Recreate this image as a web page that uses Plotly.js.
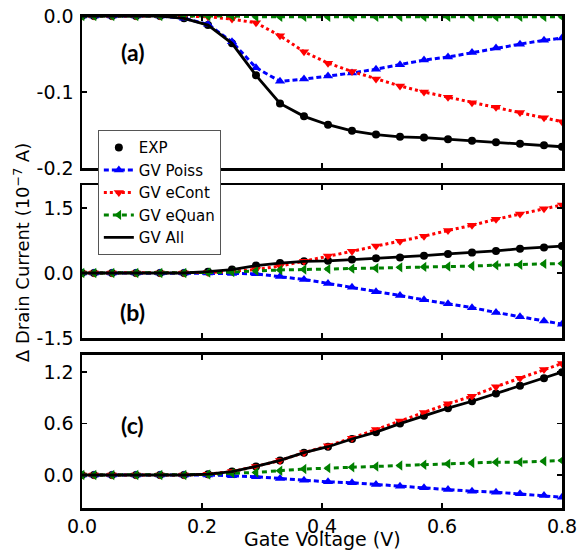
<!DOCTYPE html>
<html>
<head>
<meta charset="utf-8">
<script src="https://cdn.plot.ly/plotly-3.0.1.min.js"></script>
<style>html,body{margin:0;padding:0;background:#fff;}#chart{width:579px;height:554px;}</style>
</head>
<body>
<div id="chart"></div>
<script>
// Gate voltage (V)
const gateVoltage = [0, 0.02, 0.05, 0.09, 0.13, 0.17, 0.21, 0.25, 0.29, 0.33, 0.37, 0.41, 0.45, 0.49, 0.53, 0.57, 0.61, 0.65, 0.69, 0.73, 0.77, 0.80];

// Panel (a)
const expA    = [0,0,0,0,0,-0.003,-0.012,-0.036,-0.078,-0.115,-0.132,-0.143,-0.151,-0.156,-0.159,-0.160,-0.162,-0.164,-0.166,-0.168,-0.170,-0.172];
const poissA  = [0,0,0,0,0,-0.003,-0.011,-0.034,-0.068,-0.086,-0.083,-0.079,-0.075,-0.070,-0.064,-0.058,-0.054,-0.048,-0.042,-0.037,-0.032,-0.029];
const econtA  = [0,0,0,0,0,0,-0.001,-0.004,-0.009,-0.026,-0.047,-0.062,-0.073,-0.083,-0.092,-0.100,-0.107,-0.114,-0.120,-0.127,-0.134,-0.139];
const equanA  = [0,0,0,0,0,0,0,0,-0.001,-0.001,-0.001,-0.001,-0.001,-0.001,-0.001,-0.001,-0.001,-0.001,-0.001,-0.001,-0.001,-0.001];
const allA    = [0,0,0,0,0,-0.003,-0.012,-0.036,-0.078,-0.115,-0.132,-0.143,-0.151,-0.156,-0.159,-0.160,-0.162,-0.164,-0.166,-0.168,-0.170,-0.172];

// Panel (b)
const expB    = [0,0,0,0,0,0,0.03,0.08,0.17,0.23,0.27,0.28,0.31,0.34,0.36,0.40,0.44,0.47,0.51,0.56,0.59,0.62];
const poissB  = [0,0,0,0,0,0,0,-0.01,-0.02,-0.08,-0.15,-0.24,-0.33,-0.43,-0.52,-0.62,-0.71,-0.80,-0.91,-1.01,-1.11,-1.18];
const econtB  = [0,0,0,0,0,0,0.01,0.04,0.08,0.16,0.27,0.39,0.50,0.62,0.73,0.85,0.98,1.10,1.24,1.36,1.48,1.57];
const equanB  = [0,0,0,0,0,0,0.01,0.02,0.05,0.07,0.08,0.09,0.10,0.11,0.13,0.14,0.15,0.16,0.18,0.19,0.21,0.22];
const allB    = [0,0,0,0,0,0,0.03,0.08,0.17,0.23,0.27,0.28,0.31,0.34,0.36,0.40,0.44,0.47,0.51,0.56,0.59,0.62];

// Panel (c)
const expC    = [0,0,0,0,0,0,0.01,0.04,0.10,0.17,0.26,0.33,0.42,0.50,0.60,0.69,0.78,0.86,0.95,1.04,1.13,1.20];
const poissC  = [0,0,0,0,0,0,0,-0.01,-0.02,-0.04,-0.06,-0.08,-0.09,-0.11,-0.13,-0.15,-0.17,-0.19,-0.20,-0.22,-0.24,-0.26];
const econtC  = [0,0,0,0,0,0,0.01,0.04,0.10,0.17,0.26,0.34,0.43,0.53,0.63,0.73,0.83,0.92,1.03,1.13,1.23,1.30];
const equanC  = [0,0,0,0,0,0,0.005,0.02,0.03,0.05,0.07,0.08,0.09,0.10,0.11,0.12,0.13,0.14,0.15,0.15,0.16,0.17];
const allC    = [0,0,0,0,0,0,0.01,0.04,0.10,0.17,0.26,0.33,0.42,0.50,0.60,0.69,0.78,0.86,0.95,1.04,1.13,1.20];

const seriesNames = ["EXP", "GV Poiss", "GV eCont", "GV eQuan", "GV All"];
const xTickVals = [0, 0.2, 0.4, 0.6, 0.8];
const xTickText = ["0.0", "0.2", "0.4", "0.6", "0.8"];
const yTicksA = {vals: [0, -0.1, -0.2], text: ["0.0", "-0.1", "-0.2"]};
const yTicksB = {vals: [1.5, 0, -1.5], text: ["1.5", "0.0", "-1.5"]};
const yTicksC = {vals: [1.2, 0.6, 0], text: ["1.2", "0.6", "0.0"]};
const panelLabels = ["(a)", "(b)", "(c)"];
const xTitle = "Gate Voltage (V)";
const yTitle = "Δ Drain Current (10<sup>−7</sup> A)";

const styles = [
  {mode: "markers", marker: {symbol: "circle", size: 8, color: "black"}},
  {mode: "lines+markers", line: {color: "#0000ff", width: 3, dash: "5px,3px"}, marker: {symbol: "triangle-up", size: 9, color: "#0000ff"}},
  {mode: "lines+markers", line: {color: "#ff0000", width: 3, dash: "3px,3px"}, marker: {symbol: "triangle-down", size: 9, color: "#ff0000"}},
  {mode: "lines+markers", line: {color: "#008000", width: 3, dash: "5px,4px"}, marker: {symbol: "triangle-left", size: 9, color: "#008000"}},
  {mode: "lines", line: {color: "black", width: 2.8}}
];

const panels = [
  {ys: [expA, poissA, econtA, equanA, allA], xa: "x", ya: "y"},
  {ys: [expB, poissB, econtB, equanB, allB], xa: "x2", ya: "y2"},
  {ys: [expC, poissC, econtC, equanC, allC], xa: "x3", ya: "y3"}
];

const traces = [];
panels.forEach((p, pi) => {
  p.ys.forEach((ys, si) => {
    const t = Object.assign({
      type: "scatter", x: gateVoltage, y: ys, name: seriesNames[si],
      xaxis: p.xa, yaxis: p.ya, showlegend: pi === 0, legendgroup: seriesNames[si]
    }, JSON.parse(JSON.stringify(styles[si])));
    traces.push(t);
  });
});

const axisCommon = {
  showline: true, linewidth: 2.5, linecolor: "black", mirror: "allticks",
  ticks: "inside", ticklen: 5, tickwidth: 1.5, tickcolor: "black",
  showgrid: false, zeroline: false, tickfont: {size: 19, color: "black"}
};
function xAxis(show, anchor) {
  return Object.assign({}, axisCommon, {
    range: [0, 0.8], tickvals: xTickVals, ticktext: xTickText,
    showticklabels: show, anchor: anchor, domain: [0, 1], ticklabelstandoff: 0
  });
}
function yAxis(range, ticks, domain, anchor) {
  return Object.assign({}, axisCommon, {
    range: range, tickvals: ticks.vals, ticktext: ticks.text, domain: domain, anchor: anchor,
    ticklabelstandoff: 2
  });
}

const layout = {
  width: 579, height: 554,
  margin: {l: 82, r: 17, t: 16, b: 46},
  paper_bgcolor: "white", plot_bgcolor: "white",
  font: {family: "DejaVu Sans", color: "black", size: 17},
  showlegend: true,
  legend: {
    x: 0.033, y: 0.768, xanchor: "left", yanchor: "top",
    bgcolor: "white", bordercolor: "#555", borderwidth: 1,
    font: {size: 15, family: "DejaVu Sans", color: "black"}, tracegroupgap: 0
  },
  xaxis: xAxis(false, "y"),
  xaxis2: Object.assign(xAxis(false, "y2"), {matches: "x"}),
  xaxis3: Object.assign(xAxis(true, "y3"), {matches: "x"}),
  yaxis: yAxis([-0.2, 0], yTicksA, [0.691, 1], "x"),
  yaxis2: yAxis([-1.5, 2.03], yTicksB, [0.3455, 0.6565], "x2"),
  yaxis3: yAxis([-0.385, 1.4], yTicksC, [0, 0.311], "x3"),
  annotations: [
    {text: "<b>" + panelLabels[0] + "</b>", xref: "paper", yref: "paper", x: 0.106, y: 0.927, xanchor: "center", yanchor: "middle", showarrow: false, font: {family: "Lato", size: 23}},
    {text: "<b>" + panelLabels[1] + "</b>", xref: "paper", yref: "paper", x: 0.106, y: 0.398, xanchor: "center", yanchor: "middle", showarrow: false, font: {family: "Lato", size: 23}},
    {text: "<b>" + panelLabels[2] + "</b>", xref: "paper", yref: "paper", x: 0.106, y: 0.169, xanchor: "center", yanchor: "middle", showarrow: false, font: {family: "Lato", size: 23}},
    {text: xTitle, xref: "paper", yref: "paper", x: 0.5, y: -0.064, xanchor: "center", yanchor: "middle",
     showarrow: false, font: {size: 19}},
    {text: yTitle, xref: "paper", yref: "paper", x: -0.125, y: 0.518,
     xanchor: "center", yanchor: "middle", textangle: -90, showarrow: false, font: {size: 18}}
  ]
};

Plotly.newPlot("chart", traces, layout, {staticPlot: true, displayModeBar: false});
</script>
</body>
</html>
